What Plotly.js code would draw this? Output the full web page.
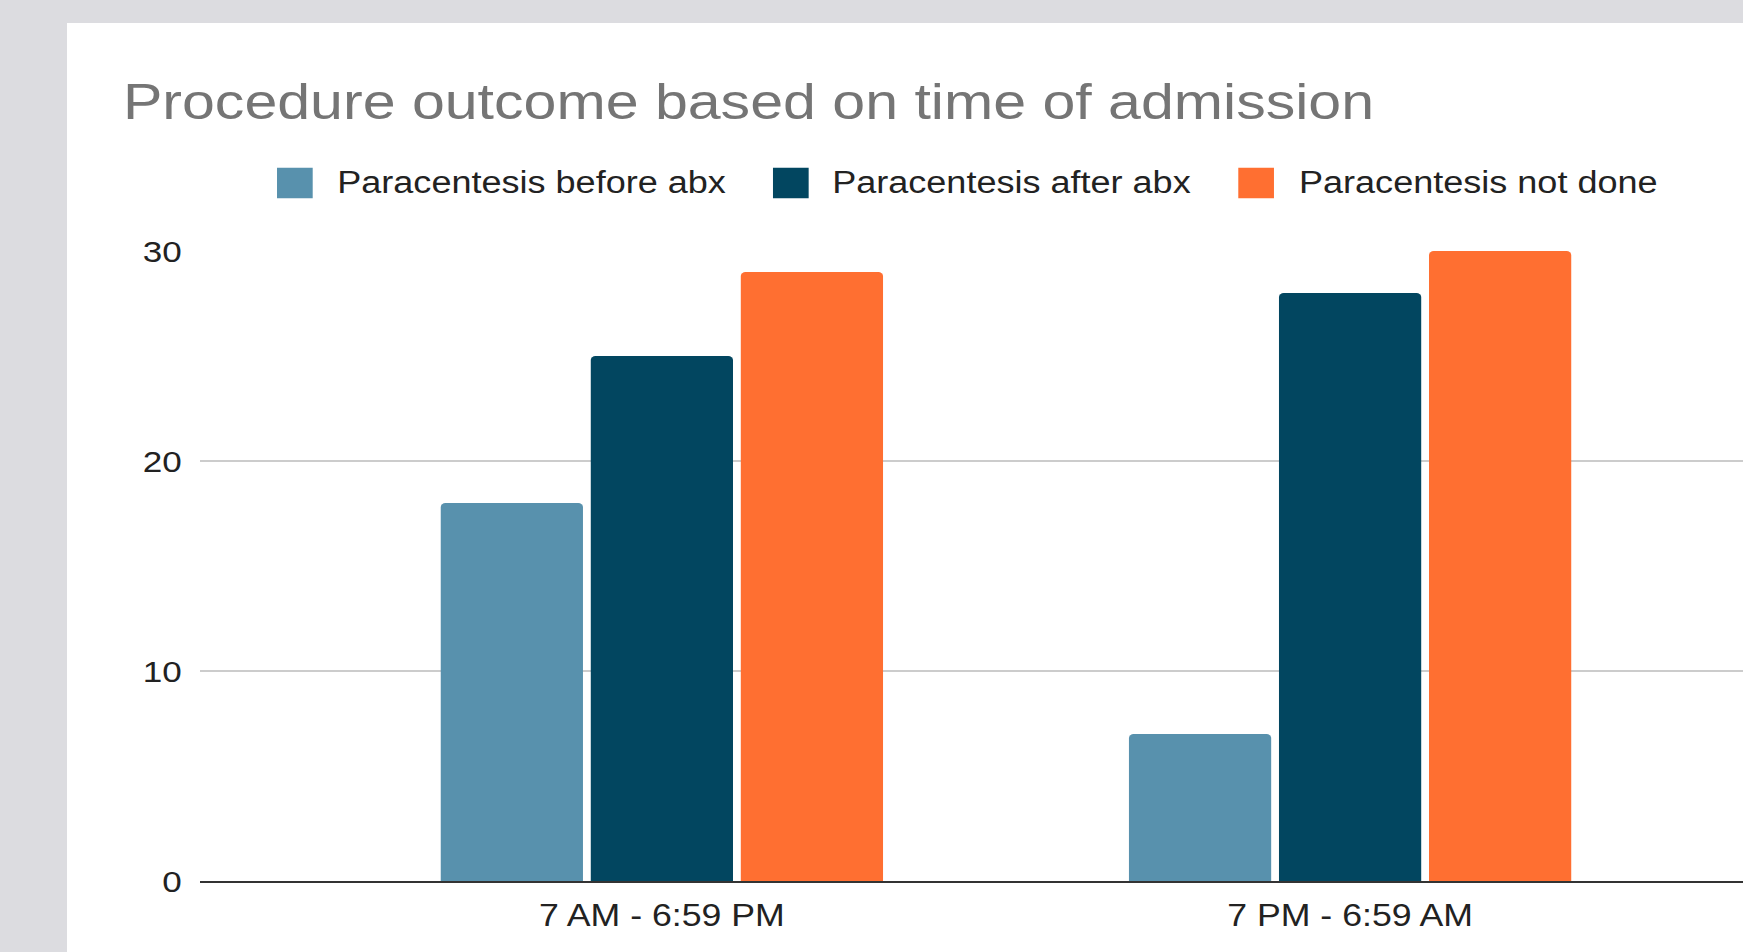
<!DOCTYPE html>
<html>
<head>
<meta charset="utf-8">
<script src="https://cdn.plot.ly/plotly-3.0.1.min.js"></script>
<style>
  html, body { margin: 0; padding: 0; background: #dcdce0; overflow: hidden; width: 1743px; height: 952px; }
  #chart { position: absolute; left: 67px; top: 23px; width: 1433px; height: 929px;
           background: #ffffff; transform: scaleX(1.17); transform-origin: 0 0; }
</style>
</head>
<body>
<div id="chart"></div>
<script>
// ---- data ----
const categories = ["7 AM - 6:59 PM", "7 PM - 6:59 AM"];
const seriesNames = ["Paracentesis before abx", "Paracentesis after abx", "Paracentesis not done"];
const beforeAbx = [18, 7];
const afterAbx = [25, 28];
const notDone = [29, 30];
const yTickVals = [0, 10, 20, 30];
const titleText = "Procedure outcome based on time of admission";

// ---- style ----
const colors = ["#5891ad", "#024660", "#ff6f31"];
const FONT = "Liberation Sans, Arial, Helvetica, sans-serif";
const W = 1433, H = 929;
const M = {l: 114, r: 0, t: 228, b: 71};
const plotW = W - M.l - M.r, plotH = H - M.t - M.b;
const toPaperX = u => (u - M.l) / plotW;
const toPaperY = v => (H - M.b - v) / plotH;

const seriesValues = [beforeAbx, afterAbx, notDone];
const traces = seriesNames.map((name, i) => ({
  type: "bar",
  name: name,
  x: categories,
  y: seriesValues[i],
  marker: {color: colors[i], line: {width: 0}},
  showlegend: false,
  hoverinfo: "skip"
}));

// manual legend (large square swatches)
const legendSquareX = [179.5, 603.4, 1001.1];
const legendTextX = [228.6, 652.4, 1050.5];
const legendY = 160, sq = 30.5;
const shapes = seriesNames.map((n, i) => ({
  type: "rect", xref: "paper", yref: "paper",
  x0: toPaperX(legendSquareX[i]), x1: toPaperX(legendSquareX[i] + sq),
  y0: toPaperY(legendY + sq / 2), y1: toPaperY(legendY - sq / 2),
  fillcolor: colors[i], line: {width: 0}
}));
const annotations = seriesNames.map((n, i) => ({
  xref: "paper", yref: "paper",
  x: toPaperX(legendTextX[i]), y: toPaperY(legendY),
  xanchor: "left", yanchor: "middle", showarrow: false,
  text: n, font: {family: FONT, size: 30.8, color: "#222222"}
}));

const layout = {
  width: W, height: H,
  margin: M,
  paper_bgcolor: "#ffffff", plot_bgcolor: "#ffffff",
  title: {
    text: titleText,
    font: {family: FONT, size: 50.5, color: "#757575"},
    xref: "container", yref: "container",
    x: 47.8 / W, xanchor: "left",
    y: 1 - 78 / H, yanchor: "middle"
  },
  showlegend: false,
  barmode: "group",
  bargap: 0.346,
  bargroupgap: 0.052,
  barcornerradius: 4,
  xaxis: {
    type: "category",
    range: [-0.6706, 1.5718],
    showgrid: false, zeroline: false,
    showline: true, linecolor: "#333333", linewidth: 2,
    ticks: "",
    tickfont: {family: FONT, size: 30.5, color: "#222222"},
    ticklabelstandoff: 6,
    fixedrange: true
  },
  yaxis: {
    range: [0, 30],
    tickvals: yTickVals,
    ticktext: yTickVals.map(String),
    showgrid: true, gridcolor: "#cccccc", gridwidth: 2,
    zeroline: false, showline: false,
    ticks: "",
    tickfont: {family: FONT, size: 30, color: "#222222"},
    ticklabelstandoff: 15,
    fixedrange: true
  },
  shapes: shapes,
  annotations: annotations
};

Plotly.newPlot("chart", traces, layout, {displayModeBar: false, staticPlot: true});
</script>
</body>
</html>
